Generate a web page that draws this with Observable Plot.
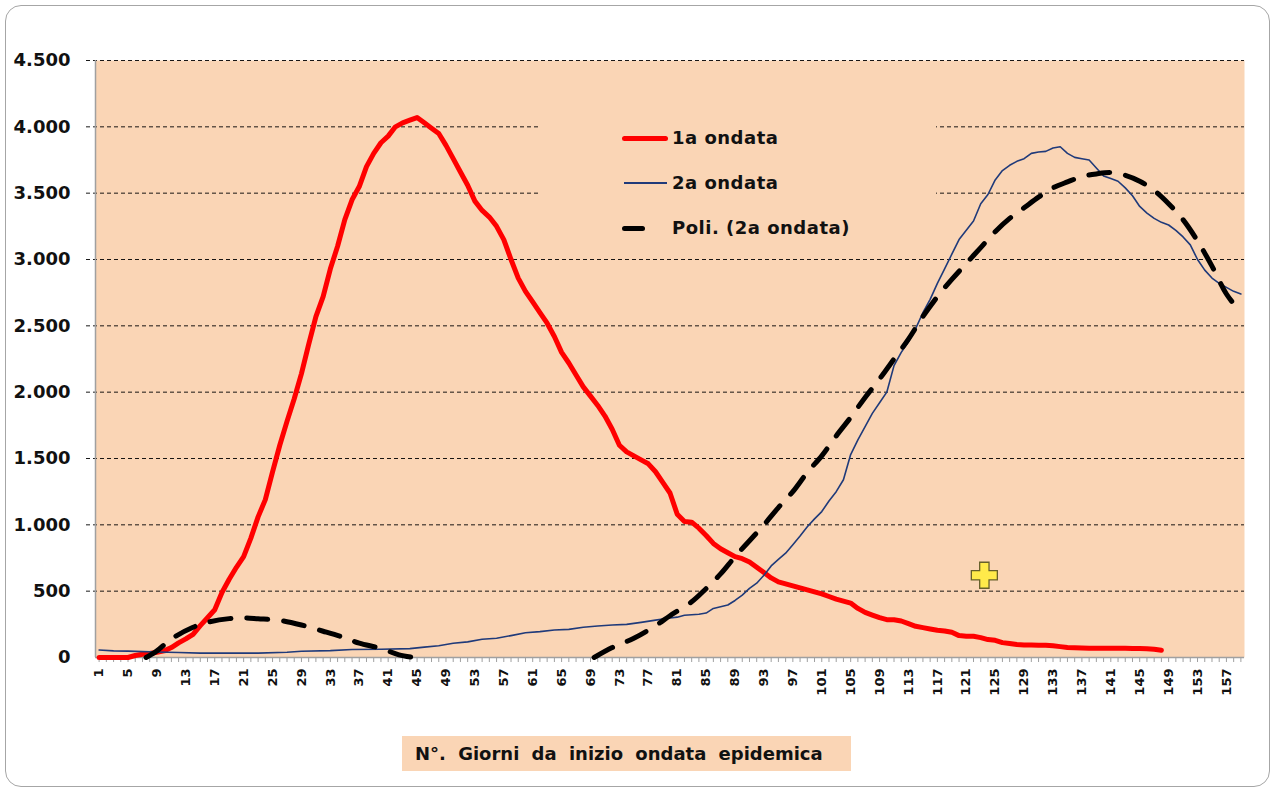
<!DOCTYPE html>
<html><head><meta charset="utf-8">
<script src="https://cdn.jsdelivr.net/npm/d3@7"></script>
<script src="https://cdn.jsdelivr.net/npm/@observablehq/plot@0.6"></script>
<style>
body{margin:0;background:#fff;font-family:"DejaVu Sans",Verdana,sans-serif;}
#wrap{position:relative;width:1272px;height:789px;overflow:hidden;}
#border{position:absolute;left:5px;top:5px;width:1265px;height:782px;border:1.5px solid #a6a6a6;border-radius:16px;box-sizing:border-box;}
#chart{position:absolute;left:0;top:0;}
#legend{position:absolute;left:538px;top:100px;width:398px;height:150px;background:#FAD5B5;}
.item{position:absolute;left:84px;height:30px;width:300px;}
.sw{position:absolute;top:50%;}
.lab{position:absolute;left:50px;top:0;line-height:30px;font-weight:bold;font-size:18px;color:#111;letter-spacing:0.5px;white-space:nowrap;}
#caption{position:absolute;left:402px;top:736px;width:449px;height:35px;background:#FAD5B5;font-weight:bold;font-size:18px;line-height:35px;padding-left:13px;box-sizing:border-box;word-spacing:6px;color:#111;white-space:nowrap;}
</style></head>
<body>
<div id="wrap">
  <div id="border"></div>
  <div id="chart"></div>
  <div id="legend"></div>
  <div id="caption"></div>
</div>
<script>
// ---------------- DATA ----------------
const seriesNames = ["1a ondata", "2a ondata", "Poli. (2a ondata)"];
const captionText = "N°. Giorni da inizio ondata epidemica";
const yTicks = [0, 500, 1000, 1500, 2000, 2500, 3000, 3500, 4000, 4500];
const dayCount = 159;
const labelDays = [1,5,9,13,17,21,25,29,33,37,41,45,49,53,57,61,65,69,73,77,81,85,89,93,97,101,105,109,113,117,121,125,129,133,137,141,145,149,153,157];

// 1a ondata: daily values, day 1..148
const wave1Values = [
  0,0,0,0,0,15,25,30,40,50,
  75,110,140,175,240,300,360,490,590,680,
  760,900,1060,1190,1400,1600,1780,1950,2140,2360,
  2570,2720,2930,3100,3300,3450,3550,3700,3800,3880,
  3930,4000,4030,4050,4070,4030,3990,3950,3860,3760,
  3660,3560,3440,3370,3320,3250,3150,3000,2860,2760,
  2680,2600,2520,2420,2300,2220,2130,2040,1970,1900,
  1820,1720,1600,1550,1520,1490,1460,1400,1320,1240,
  1080,1025,1020,975,920,860,820,790,760,745,
  720,680,640,600,570,555,540,525,510,495,
  480,460,440,425,410,370,340,320,300,285,
  285,275,255,235,225,215,205,200,190,165,
  160,160,150,135,130,112,105,98,95,95,
  93,92,88,82,76,74,72,70,70,70,
  70,70,69,68,67,66,62,55
];

// 2a ondata: points
const wave2Days = [1,3,5,9,12,15,19,23,27,29,33,36,40,44,46,48,50,52,54,56,58,60,62,64,66,68,70,72,74,76,78,80,81,82,84,85,86,88,89,90,91,92,93,94,95,96,97,98,99,100,101,102,103,104,105,106,107,108,109,110,111,112,113,114,115,116,117,118,119,120,121,122,123,124,125,126,127,128,129,130,131,132,133,134,135,136,137,138,139,140,141,142,143,144,145,146,147,148,149,150,151,152,153,154,155,156,157,158,159];
const wave2Values = [56,50,48,42,38,33,33,33,40,47,52,60,62,67,78,89,108,118,137,145,165,186,195,207,212,228,238,245,250,265,282,298,304,318,326,335,370,396,430,470,521,560,620,690,740,786,850,915,985,1045,1100,1180,1250,1340,1530,1640,1740,1840,1920,2000,2200,2300,2380,2480,2600,2700,2820,2930,3040,3150,3220,3290,3420,3490,3600,3670,3710,3740,3760,3800,3810,3815,3840,3850,3800,3770,3760,3750,3690,3630,3610,3590,3540,3480,3400,3350,3310,3280,3260,3220,3170,3110,3000,2920,2860,2820,2790,2760,2740];

// Polynomial trend of 2a ondata (visible parts above 0)
const trendDays = [7.5,9,11,14,16,19,21,23,26,29,32,35,37,40,42.5,44.5,
  69.5,72,75,78,80,83,85,87,89,91,93,95,97,99,101,103,105,107,109,111,113,115,117,119,121,123,125,127,129,131,133,135,137,139,141,143,145,147,149,151,153,155,157,159];
const trendValues = [0,50,140,228,265,293,298,292,280,245,198,148,108,68,20,0,
  0,75,145,240,315,420,520,630,760,880,1000,1130,1250,1395,1520,1670,1810,1960,2100,2250,2400,2570,2720,2850,2970,3090,3210,3310,3390,3470,3540,3585,3625,3645,3655,3635,3590,3520,3420,3300,3140,2950,2740,2600];
const trendSegment = [1,1,1,1,1,1,1,1,1,1,1,1,1,1,1,1,
  2,2,2,2,2,2,2,2,2,2,2,2,2,2,2,2,2,2,2,2,2,2,2,2,2,2,2,2,2,2,2,2,2,2,2,2,2,2,2,2,2,2,2,2];

// decorative marker
const markerDay = [123.5];
const markerValue = [620];

// ---------------- STYLE ----------------
const PEACH = "#FAD5B5";
const RED = "#FF0000";
const NAVY = "#1F3A7A";
const GRAY = "#A0A0A0";

const wave1 = wave1Values.map((v, i) => ({day: i + 1, value: v}));
const wave2 = wave2Days.map((d, i) => ({day: d, value: wave2Values[i]}));
const trend = trendDays.map((d, i) => ({day: d, value: trendValues[i], seg: trendSegment[i]}));
const marker = markerDay.map((d, i) => ({day: d, value: markerValue[i]}));
const allDays = d3.range(1, dayCount + 1);

const itLocale = d3.formatLocale({decimal: ",", thousands: ".", grouping: [3], currency: ["€", ""]});
const fmt = itLocale.format(",d");

const plusSymbol = {
  draw(context, size) {
    const r = Math.sqrt(size / Math.PI);
    const a = r * 0.36;
    context.moveTo(-a, -r);
    context.lineTo(a, -r);
    context.lineTo(a, -a);
    context.lineTo(r, -a);
    context.lineTo(r, a);
    context.lineTo(a, a);
    context.lineTo(a, r);
    context.lineTo(-a, r);
    context.lineTo(-a, a);
    context.lineTo(-r, a);
    context.lineTo(-r, -a);
    context.lineTo(-a, -a);
    context.closePath();
  }
};

const chart = Plot.plot({
  width: 1272,
  height: 789,
  marginLeft: 95,
  marginRight: 28,
  marginTop: 60,
  marginBottom: 132,
  x: {domain: [0.5, dayCount + 0.5], axis: null},
  y: {domain: [0, 4500], axis: null},
  style: {fontFamily: "DejaVu Sans, Verdana, sans-serif", background: "transparent", overflow: "visible"},
  marks: [
    Plot.frame({fill: PEACH, stroke: null}),
    Plot.gridY(yTicks.filter(d => d > 0), {stroke: "#000", strokeOpacity: 0.9, strokeDasharray: "4,3", insetLeft: -9}),
    Plot.ruleY([0], {stroke: GRAY, strokeWidth: 1.5}),
    Plot.ruleX([0.5], {stroke: GRAY, strokeWidth: 1.5}),
    Plot.axisY({ticks: yTicks, tickFormat: fmt, tickSize: 0, tickPadding: 25, fontSize: 18, fontWeight: "bold", fill: "#111", label: null}),
    Plot.axisX({ticks: allDays, tickFormat: () => "", tickSize: 5, stroke: GRAY, label: null}),
    Plot.axisX({ticks: labelDays, tickSize: 0, tickPadding: 11, tickRotate: -90, fontSize: 13, fontWeight: "bold", fill: "#111", label: null}),
    Plot.line(wave1, {x: "day", y: "value", stroke: RED, strokeWidth: 5, strokeLinejoin: "round", strokeLinecap: "round"}),
    Plot.line(wave2, {x: "day", y: "value", stroke: NAVY, strokeWidth: 1.6}),
    Plot.line(trend, {x: "day", y: "value", z: "seg", stroke: "#000", strokeWidth: 5, strokeDasharray: "21,16", strokeLinecap: "round", curve: "catmull-rom"}),
    Plot.dot(marker, {x: "day", y: "value", r: 13, symbol: plusSymbol, fill: "#FFEA4A", stroke: "#66602a", strokeWidth: 1.3})
  ]
});
document.getElementById("chart").appendChild(chart);

// legend
const legend = document.getElementById("legend");
const swatches = [
  {top: 23, html: '<div class="sw" style="left:0;width:46px;height:5px;margin-top:-2.5px;background:' + RED + ';border-radius:3px"></div>'},
  {top: 68, html: '<div class="sw" style="left:2px;width:43px;height:2px;margin-top:-1px;background:' + NAVY + '"></div>'},
  {top: 113, html: '<div class="sw" style="left:0;width:23px;height:5px;margin-top:-2.5px;background:#000;border-radius:3px"></div>'}
];
seriesNames.forEach((name, i) => {
  const it = document.createElement("div");
  it.className = "item";
  it.style.top = swatches[i].top + "px";
  it.innerHTML = swatches[i].html + '<div class="lab"></div>';
  it.querySelector(".lab").textContent = name;
  legend.appendChild(it);
});
document.getElementById("caption").textContent = captionText;
</script>
</body></html>
